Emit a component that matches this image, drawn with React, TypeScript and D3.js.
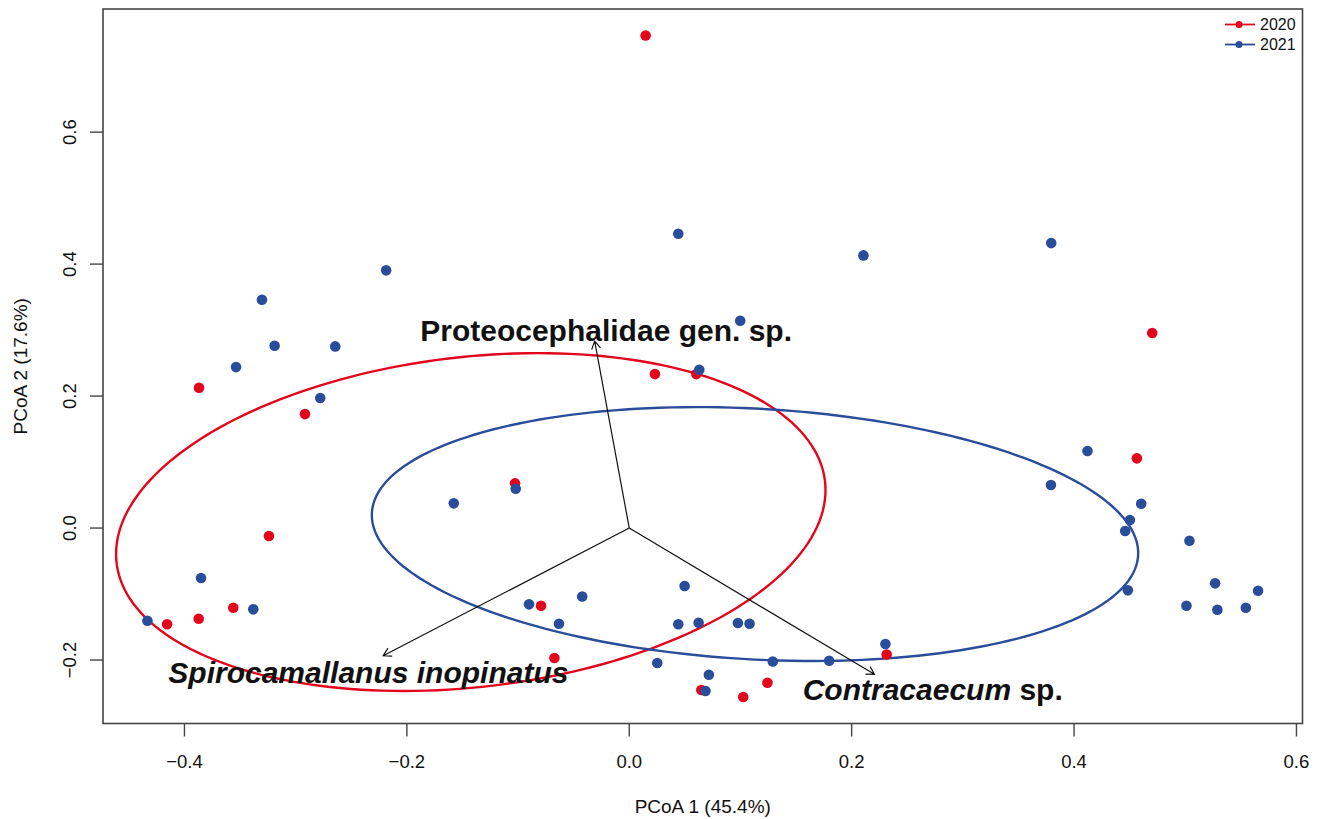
import React from "react";
import * as d3 from "d3";

const width = 1325;
const height = 819;
const box = { left: 103, right: 1302.5, top: 9, bottom: 723.5 };

const years = ["2020", "2021"];
const yearColors = ["#E3051B", "#2A4D9B"];

// site scores, 2020
const x2020 = [0.0147, -0.3869, -0.2916, 0.4703, 0.0231, 0.0603, -0.1027, -0.324, 0.4565, -0.3561, -0.3872, -0.4156, -0.0793, -0.0673, 0.0648, 0.1025, 0.1243, 0.2315];
const y2020 = [0.7465, 0.2126, 0.1727, 0.2955, 0.2333, 0.2333, 0.0677, -0.0121, 0.1056, -0.1208, -0.1374, -0.1459, -0.1177, -0.197, -0.2455, -0.2561, -0.2344, -0.1917];

// site scores, 2021
const x2021 = [-0.2186, -0.3303, -0.3189, -0.3536, -0.2644, -0.2779, 0.0441, 0.0998, 0.2106, 0.3795, 0.063, -0.1578, -0.1021, -0.3851, -0.3381, -0.4333, -0.0901, -0.0632, -0.0423, 0.0498, 0.0441, 0.0624, 0.0977, 0.1082, 0.0252, 0.0716, 0.0686, 0.1291, 0.1798, 0.2304, 0.4121, 0.3792, 0.4604, 0.4502, 0.446, 0.5038, 0.4484, 0.5269, 0.5011, 0.5289, 0.5545, 0.5655];
const y2021 = [0.3905, 0.3459, 0.2762, 0.2439, 0.2753, 0.197, 0.4459, 0.3141, 0.4132, 0.4318, 0.2398, 0.0374, 0.0595, -0.0758, -0.1232, -0.1405, -0.1156, -0.145, -0.1038, -0.0879, -0.1459, -0.1435, -0.1439, -0.145, -0.2045, -0.2223, -0.247, -0.2023, -0.2011, -0.1758, 0.1167, 0.0652, 0.0368, 0.0121, -0.0045, -0.0192, -0.0944, -0.0838, -0.1177, -0.1238, -0.1208, -0.095];

// group ellipses (centre, half extents, y offset at the x extreme)
const ellCx = [-0.1425, 0.1131];
const ellCy = [0.0091, -0.0091];
const ellHalfW = [0.319, 0.3446];
const ellHalfH = [0.256, 0.1924];
const ellTilt = [0.0485, -0.0288];

// fitted species vectors
const vecX = [-0.0311, -0.2213, 0.2205];
const vecY = [0.2833, -0.1935, -0.2217];
const labelX = [-0.0208, -0.2346, 0.2729];
const labelY = [0.3, -0.2185, -0.2438];

const xTicks = [-0.4, -0.2, 0.0, 0.2, 0.4, 0.6];
const yTicks = [-0.2, 0.0, 0.2, 0.4, 0.6];

const font = "'Liberation Sans', Arial, Helvetica, sans-serif";

const pad = (ext: number[]) => {
  const d = (ext[1] - ext[0]) * 0.04;
  return [ext[0] - d, ext[1] + d];
};

export default function App() {
  const allX = [...x2020, ...x2021];
  const allY = [...y2020, ...y2021];

  const x = d3.scaleLinear().domain(pad(d3.extent(allX) as number[])).range([box.left, box.right]);
  const y = d3.scaleLinear().domain(pad(d3.extent(allY) as number[])).range([box.bottom, box.top]);
  const fmt = d3.format(".1f");

  const groups = [
    { xs: x2020, ys: y2020 },
    { xs: x2021, ys: y2021 },
  ];

  const ellipsePath = (i: number) => {
    const l22 = Math.sqrt(ellHalfH[i] ** 2 - ellTilt[i] ** 2);
    const ts = d3.range(0, 201).map((k) => (k / 200) * Math.PI * 2);
    return d3
      .line<number>()
      .x((t) => x(ellCx[i] + ellHalfW[i] * Math.cos(t)))
      .y((t) => y(ellCy[i] + ellTilt[i] * Math.cos(t) + l22 * Math.sin(t)))(ts);
  };

  const arrow = (i: number) => {
    const x0 = x(0), y0 = y(0);
    const x1 = x(vecX[i]), y1 = y(vecY[i]);
    const a = Math.atan2(y1 - y0, x1 - x0);
    const len = 9;
    const h1 = [x1 - len * Math.cos(a - Math.PI / 6), y1 - len * Math.sin(a - Math.PI / 6)];
    const h2 = [x1 - len * Math.cos(a + Math.PI / 6), y1 - len * Math.sin(a + Math.PI / 6)];
    return `M${x0},${y0}L${x1},${y1}M${h1[0]},${h1[1]}L${x1},${y1}L${h2[0]},${h2[1]}`;
  };

  const labelStyle = { fontFamily: font, fontSize: 30, fontWeight: 700, fill: "#111" } as const;

  return (
    <svg
      width={width}
      height={height}
      style={{ position: "absolute", left: 0, top: 0, background: "#fff" }}
    >
      {/* ellipses */}
      {years.map((yr, i) => (
        <path key={yr} d={ellipsePath(i) || ""} fill="none" stroke={yearColors[i]} strokeWidth={2.4} />
      ))}

      {/* points */}
      {groups.map((g, gi) =>
        g.xs.map((v, j) => (
          <circle key={`${gi}-${j}`} cx={x(v)} cy={y(g.ys[j])} r={5.3} fill={yearColors[gi]} />
        ))
      )}

      {/* vectors */}
      {vecX.map((_, i) => (
        <path key={i} d={arrow(i)} fill="none" stroke="#111" strokeWidth={1.2} />
      ))}

      {/* vector labels */}
      <text x={x(labelX[0])} y={y(labelY[0]) + 10.7} textAnchor="middle" style={labelStyle}>
        Proteocephalidae gen. sp.
      </text>
      <text x={x(labelX[1])} y={y(labelY[1]) + 10.7} textAnchor="middle" style={{ ...labelStyle, fontStyle: "italic" }}>
        Spirocamallanus inopinatus
      </text>
      <text x={x(labelX[2])} y={y(labelY[2]) + 10.7} textAnchor="middle" style={labelStyle}>
        <tspan fontStyle="italic">Contracaecum</tspan>
        <tspan> sp.</tspan>
      </text>

      {/* box */}
      <rect
        x={box.left}
        y={box.top}
        width={box.right - box.left}
        height={box.bottom - box.top}
        fill="none"
        stroke="#444"
        strokeWidth={1.6}
      />

      {/* x axis */}
      {xTicks.map((t) => (
        <g key={t}>
          <line x1={x(t)} x2={x(t)} y1={box.bottom} y2={box.bottom + 13} stroke="#444" strokeWidth={1.4} />
          <text x={x(t)} y={768} textAnchor="middle" style={{ fontFamily: font, fontSize: 18.5, fill: "#111" }}>
            {fmt(t)}
          </text>
        </g>
      ))}
      <text
        x={(box.left + box.right) / 2}
        y={813}
        textAnchor="middle"
        style={{ fontFamily: font, fontSize: 19, fill: "#111" }}
      >
        PCoA 1 (45.4%)
      </text>

      {/* y axis */}
      {yTicks.map((t) => (
        <g key={t}>
          <line x1={box.left} x2={box.left - 13} y1={y(t)} y2={y(t)} stroke="#444" strokeWidth={1.4} />
          <text
            transform={`translate(76,${y(t)}) rotate(-90)`}
            textAnchor="middle"
            style={{ fontFamily: font, fontSize: 18.5, fill: "#111" }}
          >
            {fmt(t)}
          </text>
        </g>
      ))}
      <text
        transform={`translate(27,${(box.top + box.bottom) / 2}) rotate(-90)`}
        textAnchor="middle"
        style={{ fontFamily: font, fontSize: 19, fill: "#111" }}
      >
        PCoA 2 (17.6%)
      </text>

      {/* legend */}
      {years.map((yr, i) => (
        <g key={yr} transform={`translate(1225,${24.5 + i * 20})`}>
          <line x1={0} x2={30} y1={0} y2={0} stroke={yearColors[i]} strokeWidth={1.8} />
          <circle cx={14} cy={0} r={3.5} fill={yearColors[i]} />
          <text x={35} y={5.5} style={{ fontFamily: font, fontSize: 16, fill: "#111" }}>
            {yr}
          </text>
        </g>
      ))}
    </svg>
  );
}
